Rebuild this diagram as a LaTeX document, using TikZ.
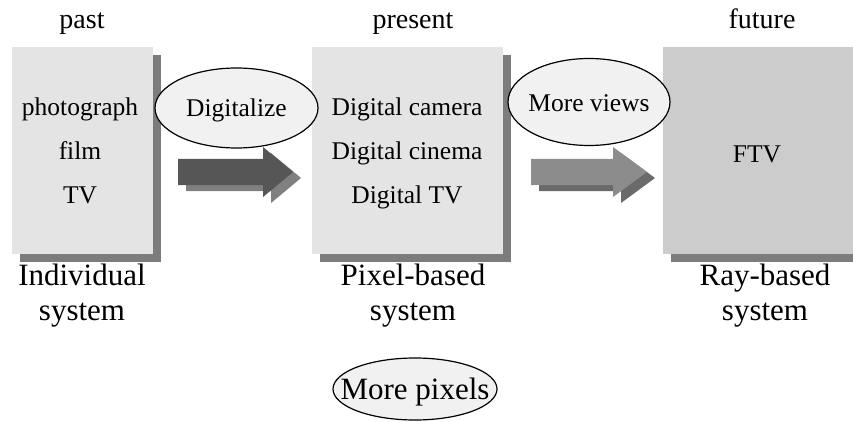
\documentclass[tikz,border=0pt]{standalone}
\usepackage{fontspec}
\setmainfont{Liberation Serif}
\usetikzlibrary{shapes.geometric}
\definecolor{boxlight}{HTML}{E4E4E4}
\definecolor{boxdark}{HTML}{CCCCCC}
\definecolor{shadowc}{HTML}{7C7C7C}
\definecolor{ellfill}{HTML}{F1F1F1}
\definecolor{arrdark}{HTML}{565656}
\definecolor{arrdarksh}{HTML}{808080}
\definecolor{arrmid}{HTML}{8C8C8C}
\definecolor{arrmidsh}{HTML}{6A6A6A}
\begin{document}
\begin{tikzpicture}[x=1pt,y=-1pt,
  panel/.style={rectangle,inner sep=0pt,draw=none},
  ell/.style={ellipse,draw=black,line width=1.2pt,fill=ellfill,inner sep=0pt},
  itemtxt/.style={anchor=base,font=\fontsize{25.5}{30}\selectfont,inner sep=0pt},
  toptxt/.style={anchor=base,font=\fontsize{28}{33}\selectfont,inner sep=0pt},
  bottxt/.style={anchor=base,font=\fontsize{31}{36}\selectfont,inner sep=0pt,align=center},
]
\useasboundingbox (0,0) rectangle (853,422);
\clip (0,0) rectangle (853,422);

% shadows
\fill[shadowc] (20,55) rectangle (161,262);
\fill[shadowc] (320,55) rectangle (511,262);
\fill[shadowc] (671,55) rectangle (870,262);

% panels
\node[panel,fill=boxlight,minimum width=141pt,minimum height=207pt] (b1) at (82.5,150.5) {};
\node[panel,fill=boxlight,minimum width=191pt,minimum height=207pt] (b2) at (407.5,150.5) {};
\node[panel,fill=boxdark,minimum width=200pt,minimum height=207pt,anchor=north west] (b3) at (663,47) {};

% top labels
\node[toptxt] (past) at (82,29) {past};
\node[toptxt] (present) at (413,29) {present};
\node[toptxt] (future) at (762,29) {future};

% panel items
\node[itemtxt] (p1) at (80,116) {photograph};
\node[itemtxt] (p2) at (80,160) {film};
\node[itemtxt] (p3) at (80,204) {TV};
\node[itemtxt] (d1) at (407,116) {Digital camera};
\node[itemtxt] (d2) at (407,160) {Digital cinema};
\node[itemtxt] (d3) at (407,204) {Digital TV};
\node[itemtxt] (ftv) at (757,163) {FTV};

% block arrows (shadow first)
\fill[arrdarksh] (186,165) -- (271,165) -- (271,153) -- (301,178) -- (271,203) -- (271,191) -- (186,191) -- cycle;
\fill[arrdark] (178,159) -- (263,159) -- (263,147) -- (293,172) -- (263,197) -- (263,185) -- (178,185) -- cycle;
\fill[arrmidsh] (539,165) -- (621,165) -- (621,153) -- (655,178) -- (621,203) -- (621,191) -- (539,191) -- cycle;
\fill[arrmid] (531,159) -- (613,159) -- (613,147) -- (647,172) -- (613,197) -- (613,185) -- (531,185) -- cycle;

% ellipses
\node[ell,minimum width=163pt,minimum height=80pt] (e1) at (236.5,108) {};
\node[itemtxt] (e1t) at (236.5,117) {Digitalize};
\node[ell,minimum width=162pt,minimum height=87pt] (e2) at (589,102) {};
\node[itemtxt] (e2t) at (589,112) {More views};
\node[ell,minimum width=164pt,minimum height=62pt] (e3) at (415,389) {};
\node[bottxt] (e3t) at (415,399) {More pixels};

% bottom labels
\node[bottxt] (l1a) at (82,285) {Individual};
\node[bottxt] (l1b) at (82,320) {system};
\node[bottxt] (l2a) at (413,285) {Pixel-based};
\node[bottxt] (l2b) at (413,320) {system};
\node[bottxt] (l3a) at (765,285) {Ray-based};
\node[bottxt] (l3b) at (765,320) {system};
\end{tikzpicture}
\end{document}
